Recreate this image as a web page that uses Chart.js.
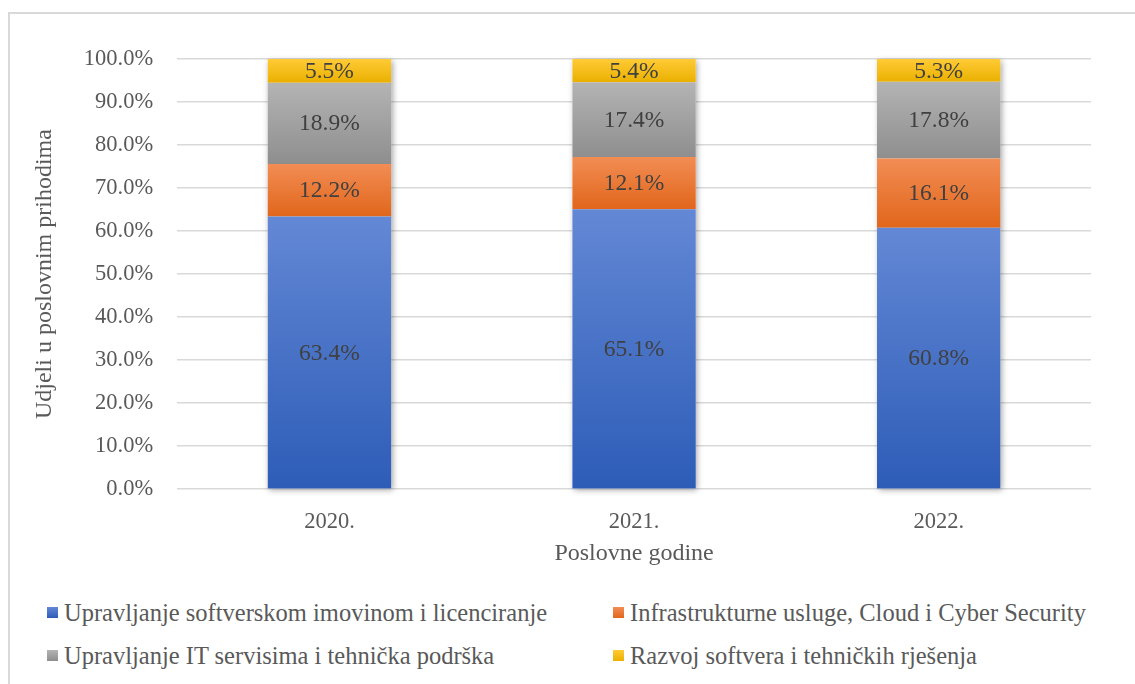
<!DOCTYPE html>
<html>
<head>
<meta charset="utf-8">
<script src="https://cdn.jsdelivr.net/npm/chart.js@4.4.0/dist/chart.umd.min.js"></script>
<style>
  body { margin: 0; background: #fff; overflow: hidden; font-family: "Liberation Serif", serif; }
  #frame { position: absolute; left: 8px; top: 12px; width: 1200px; height: 800px; border: 2px solid #d9d9d9; }
  #wrap { position: absolute; left: 0; top: 0; width: 1135px; height: 575px; }
  #legend { position: absolute; left: 47px; top: 591px; display: grid; grid-template-columns: 566px auto; grid-auto-rows: 43px; }
  .item { display: flex; align-items: center; font-size: 24.5px; color: #595959; white-space: nowrap; }
  .box { width: 11px; height: 11px; margin-right: 6px; }
</style>
</head>
<body>
<div id="frame"></div>
<div id="wrap"><canvas id="barChart"></canvas></div>
<div id="legend"></div>
<script>
// Udjeli u poslovnim prihodima po godinama (%)
const godine = ['2020.', '2021.', '2022.'];
const nazivi = [
    'Upravljanje softverskom imovinom i licenciranje',
    'Infrastrukturne usluge, Cloud i Cyber Security',
    'Upravljanje IT servisima i tehnička podrška',
    'Razvoj softvera i tehničkih rješenja'
];
const licenciranje = [63.4, 65.1, 60.8];
const infrastruktura = [12.2, 12.1, 16.1];
const servisi = [18.9, 17.4, 17.8];
const razvoj = [5.5, 5.4, 5.3];
const yTicks = [0, 10, 20, 30, 40, 50, 60, 70, 80, 90, 100];

// boje (vrh, dno) za gradijent svakog segmenta
const boje = [
    ['#6388d5', '#2d5cb7'],
    ['#f28d54', '#e1661b'],
    ['#b4b4b4', '#8e8e8e'],
    ['#ffcb36', '#eab000']
];

const font = '"Liberation Serif", "Times New Roman", serif';
const textColor = '#595959';

function gradijent(top, bottom) {
    return function (ctx) {
        const chart = ctx.chart;
        if (ctx.type !== 'data' || !chart.chartArea) return bottom;
        const y = chart.scales.y;
        let base = 0;
        for (let d = 0; d < ctx.datasetIndex; d++) base += chart.data.datasets[d].data[ctx.dataIndex];
        const v = chart.data.datasets[ctx.datasetIndex].data[ctx.dataIndex];
        const y0 = y.getPixelForValue(base + v);
        const y1 = y.getPixelForValue(base);
        const g = chart.ctx.createLinearGradient(0, y0, 0, y1);
        g.addColorStop(0, top);
        g.addColorStop(1, bottom);
        return g;
    };
}

const serije = [licenciranje, infrastruktura, servisi, razvoj];

// sjena iza cijelog stupca
const sjenaPlugin = {
    id: 'sjena',
    beforeDatasetsDraw(chart) {
        const ctx = chart.ctx;
        const first = chart.getDatasetMeta(0).data;
        const last = chart.getDatasetMeta(chart.data.datasets.length - 1).data;
        ctx.save();
        ctx.shadowColor = 'rgba(0,0,0,0.35)';
        ctx.shadowBlur = 6;
        ctx.shadowOffsetX = 1.5;
        ctx.shadowOffsetY = 1.5;
        ctx.fillStyle = '#ffffff';
        first.forEach((el, i) => {
            const top = last[i].y;
            const bottom = el.base;
            ctx.fillRect(el.x - el.width / 2, top, el.width, bottom - top);
        });
        ctx.restore();
    }
};

// oznake vrijednosti u sredini segmenta
const oznakePlugin = {
    id: 'oznake',
    afterDatasetsDraw(chart) {
        const ctx = chart.ctx;
        ctx.save();
        ctx.font = '23.5px ' + font;
        ctx.fillStyle = '#404040';
        ctx.textAlign = 'center';
        ctx.textBaseline = 'middle';
        chart.data.datasets.forEach((ds, d) => {
            chart.getDatasetMeta(d).data.forEach((el, i) => {
                ctx.fillText(ds.data[i].toFixed(1) + '%', el.x, (el.y + el.base) / 2 + 1);
            });
        });
        ctx.restore();
    }
};

const chartCtx = document.getElementById('barChart').getContext('2d');
const barChart = new Chart(chartCtx, {
    type: 'bar',
    data: {
        labels: godine,
        datasets: serije.map((s, i) => ({
            label: nazivi[i],
            data: s,
            backgroundColor: gradijent(boje[i][0], boje[i][1]),
            borderWidth: 0,
            barPercentage: 0.405,
            categoryPercentage: 1
        }))
    },
    options: {
        responsive: true,
        maintainAspectRatio: false,
        animation: false,
        layout: { padding: { top: 59, left: 30, right: 44, bottom: 7 } },
        plugins: {
            legend: { display: false },
            tooltip: { enabled: false }
        },
        scales: {
            x: {
                stacked: true,
                grid: { display: false },
                border: { display: false },
                ticks: { color: textColor, font: { family: font, size: 22.5 }, padding: 11 },
                title: {
                    display: true, text: 'Poslovne godine', color: textColor,
                    font: { family: font, size: 24 }, padding: { top: -7, bottom: 0 }
                }
            },
            y: {
                stacked: true,
                min: 0,
                max: 100,
                afterBuildTicks: axis => { axis.ticks = yTicks.map(v => ({ value: v })); },
                grid: { color: '#d9d9d9', lineWidth: 1.5, drawTicks: false },
                border: { display: false },
                ticks: {
                    color: textColor, font: { family: font, size: 22.5 }, padding: 24,
                    callback: v => v.toFixed(1) + '%'
                },
                title: {
                    display: true, text: 'Udjeli u poslovnim prihodima', color: textColor,
                    font: { family: font, size: 24 }, padding: { top: 0, bottom: 1 }
                }
            }
        }
    },
    plugins: [sjenaPlugin, oznakePlugin]
});

// legenda u dva stupca
const legend = document.getElementById('legend');
[0, 1, 2, 3].forEach(i => {
    const item = document.createElement('div');
    item.className = 'item';
    const box = document.createElement('span');
    box.className = 'box';
    box.style.background = 'linear-gradient(' + boje[i][0] + ',' + boje[i][1] + ')';
    item.appendChild(box);
    item.appendChild(document.createTextNode(barChart.data.datasets[i].label));
    legend.appendChild(item);
});
</script>
</body>
</html>
